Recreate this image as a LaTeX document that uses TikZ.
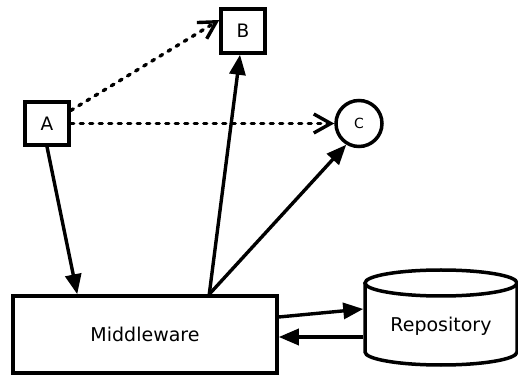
\documentclass[tikz,border=0pt]{standalone}
\usepackage{fontspec}
\setmainfont{DejaVu Sans}
\usetikzlibrary{arrows.meta}
\begin{document}
\begin{tikzpicture}[x=1pt,y=1pt,
  box/.style={draw, line width=3.5pt, minimum width=44pt, minimum height=44pt, inner sep=0pt, font=\fontsize{18.5}{20}\selectfont},
  circ/.style={draw, circle, line width=3.5pt, minimum size=46pt, inner sep=0pt, font=\fontsize{14}{16}\selectfont},
  big/.style={line width=3.5pt, font=\fontsize{19}{21}\selectfont, inner sep=0pt},
  solidarrow/.style={line width=3.4pt, -{Triangle[length=20pt,width=16pt]}},
  dotarrow/.style={line width=3.4pt, line cap=round, dash pattern=on 3pt off 6.5pt, -{Straight Barb[length=17pt,width=19pt,line width=3.4pt]}}
]
\useasboundingbox (0,0) rectangle (518,374);
\node[box, minimum height=43pt] (a) at (47,250.5) {A};
\node[box] (b) at (243,343) {B};
\node[circ] (c) at (359,250.5) {C};
\node[big, draw, minimum width=264pt, minimum height=77pt] (mw) at (145,39.5) {Middleware};
\node[big, minimum width=152pt, minimum height=82pt, text depth=0pt] (repo) at (441,50) {Repository};
% cylinder
\draw[line width=3.5pt] (repo.center |- 0,91) ellipse [x radius=76, y radius=13];
\draw[line width=3.5pt] (365,91) -- (365,22) arc[start angle=180, end angle=360, x radius=76, y radius=13] -- (517,91);
% connectors
\draw[solidarrow] (a.south) -- ([xshift=66pt]mw.north west);
\draw[solidarrow] ([xshift=198pt]mw.north west) -- ([xshift=-3pt]b.south);
\draw[solidarrow] ([xshift=198pt]mw.north west) -- (c.239);
\draw[solidarrow] ([yshift=17.5pt]mw.east) -- ([yshift=15pt]repo.west);
\draw[solidarrow] ([yshift=-13pt]repo.west) -- ([yshift=-2.5pt]mw.east);
\draw[dotarrow] ([yshift=13pt]a.east) -- ([yshift=11pt]b.west);
\draw[dotarrow] (a.east) -- (c.west);
\end{tikzpicture}
\end{document}
